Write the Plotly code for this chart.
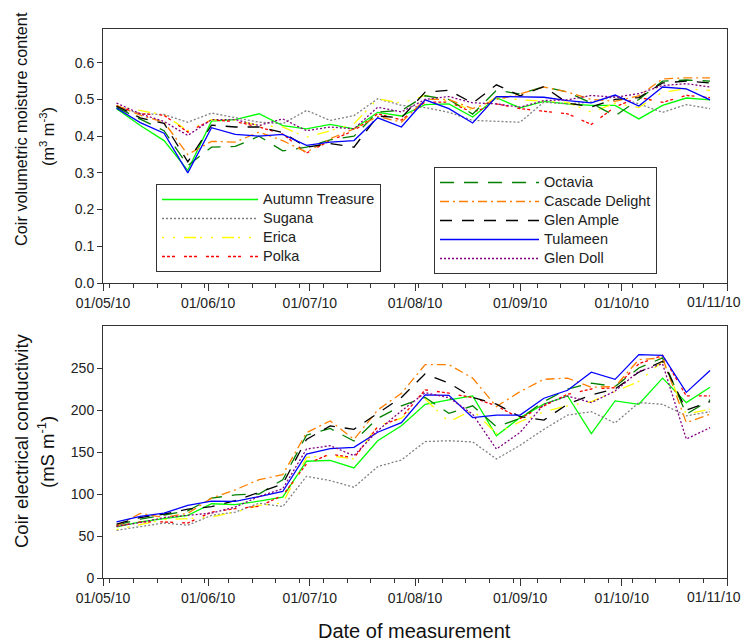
import plotly.graph_objects as go

dates = ["2010-05-05", "2010-05-12", "2010-05-19", "2010-05-26",
         "2010-06-02", "2010-06-09", "2010-06-16", "2010-06-23", "2010-06-30",
         "2010-07-07", "2010-07-14", "2010-07-21", "2010-07-28",
         "2010-08-04", "2010-08-11", "2010-08-18", "2010-08-25",
         "2010-09-01", "2010-09-08", "2010-09-15", "2010-09-22", "2010-09-29",
         "2010-10-06", "2010-10-13", "2010-10-20", "2010-10-27"]

month_ticks = ["2010-05-01", "2010-06-01", "2010-07-01", "2010-08-01",
               "2010-09-01", "2010-10-01", "2010-11-01"]
month_labels = ["01/05/10", "01/06/10", "01/07/10", "01/08/10",
                "01/09/10", "01/10/10", "01/11/10"]

cultivars = ["Autumn Treasure", "Sugana", "Erica", "Polka",
             "Octavia", "Cascade Delight", "Glen Ample", "Tulameen", "Glen Doll"]

# Volumetric moisture content (m3 m-3)
vmc_autumn_treasure = [0.475, 0.429, 0.388, 0.307, 0.441, 0.445, 0.461, 0.429, 0.420, 0.432, 0.420, 0.465, 0.455,
                       0.486, 0.488, 0.452, 0.505, 0.477, 0.495, 0.488, 0.484, 0.484, 0.447, 0.484, 0.504, 0.499]
vmc_sugana = [0.481, 0.461, 0.459, 0.438, 0.463, 0.450, 0.438, 0.434, 0.470, 0.443, 0.456, 0.502, 0.484,
              0.478, 0.465, 0.443, 0.440, 0.438, 0.493, 0.488, 0.493, 0.508, 0.488, 0.465, 0.486, 0.475]
vmc_erica = [0.482, 0.470, 0.458, 0.415, 0.445, 0.444, 0.429, 0.425, 0.397, 0.415, 0.434, 0.502, 0.490,
             0.511, 0.495, 0.470, 0.506, 0.499, 0.495, 0.492, 0.465, 0.490, 0.478, 0.520, 0.529, 0.525]
vmc_polka = [0.482, 0.461, 0.457, 0.411, 0.444, 0.440, 0.425, 0.406, 0.354, 0.388, 0.415, 0.461, 0.444,
             0.493, 0.493, 0.465, 0.488, 0.475, 0.468, 0.461, 0.432, 0.480, 0.506, 0.492, 0.511, 0.505]
vmc_octavia = [0.478, 0.447, 0.415, 0.320, 0.370, 0.372, 0.400, 0.360, 0.370, 0.390, 0.400, 0.466, 0.470,
               0.510, 0.500, 0.460, 0.525, 0.515, 0.535, 0.520, 0.490, 0.455, 0.500, 0.550, 0.553, 0.550]
vmc_cascade_delight = [0.484, 0.457, 0.438, 0.350, 0.386, 0.384, 0.411, 0.388, 0.356, 0.393, 0.420, 0.454, 0.438,
                       0.500, 0.500, 0.475, 0.500, 0.515, 0.534, 0.520, 0.500, 0.495, 0.510, 0.556, 0.559, 0.559]
vmc_glen_ample = [0.482, 0.450, 0.435, 0.330, 0.430, 0.425, 0.425, 0.410, 0.370, 0.380, 0.370, 0.455, 0.450,
                  0.520, 0.525, 0.490, 0.540, 0.510, 0.535, 0.490, 0.480, 0.500, 0.505, 0.545, 0.550, 0.545]
vmc_tulameen = [0.476, 0.437, 0.408, 0.300, 0.423, 0.405, 0.400, 0.405, 0.375, 0.384, 0.388, 0.450, 0.425,
                0.499, 0.475, 0.436, 0.508, 0.506, 0.506, 0.497, 0.491, 0.512, 0.482, 0.534, 0.529, 0.499]
vmc_glen_doll = [0.490, 0.461, 0.440, 0.402, 0.445, 0.445, 0.429, 0.447, 0.415, 0.425, 0.420, 0.479, 0.466,
                 0.500, 0.508, 0.491, 0.488, 0.479, 0.497, 0.499, 0.511, 0.506, 0.516, 0.538, 0.543, 0.534]

# Electrical conductivity (mS m-1)
ec_autumn_treasure = [60.8, 66.7, 70.7, 74.6, 88.4, 87.3, 91.5, 96.3, 139, 140, 131, 163.4, 181.2,
                      206.8, 212, 216.7, 169.3, 191, 207, 216.7, 172, 210.8, 206.8, 238, 208.8, 227]
ec_sugana = [56.8, 60.8, 65.5, 62.8, 74.6, 78.5, 89, 85, 121, 116, 108, 132.6, 140.5,
             162.4, 163.4, 162, 141.7, 158, 177, 194, 198, 184.5, 208.8, 206.8, 193, 198]
ec_erica = [57.7, 64, 69.5, 70.7, 72.6, 78.5, 86.4, 89.2, 143.6, 145.6, 141.7, 181.2, 190.3,
            213, 186, 200, 172, 186, 198, 205, 210, 222, 234, 258, 195, 201]
ec_polka = [61.6, 66.7, 66.7, 65.5, 78.5, 82.5, 85.3, 98.3, 135.8, 147.7, 142.9, 180, 191,
            224, 220, 214.7, 205, 190, 205, 218.7, 225, 226.5, 255, 265, 216.7, 216.7]
ec_octavia = [63, 70, 75, 80, 95, 99, 100, 117, 170, 178, 163, 190, 205,
              215, 196, 205, 180, 190, 210, 225, 232, 228, 250, 262, 195, 212]
ec_cascade_delight = [62, 77, 72, 77, 95, 105, 117, 123, 173, 187, 165, 200, 220,
                      254, 254, 238, 204, 222, 236.5, 238, 227, 228, 260, 262, 185, 195]
ec_glen_ample = [64, 72, 76, 82, 85, 92, 102, 112, 165, 181, 177, 196, 215,
                 243, 232, 215, 207, 192, 188, 207, 218, 225, 245, 258, 200, 210]
ec_tulameen = [66.7, 73.4, 77.3, 86.4, 91.6, 91.2, 97, 103, 147.5, 154, 155.5, 173.5, 185,
               218, 217.5, 191, 194, 194, 214, 223.5, 245, 236.5, 266, 265, 221, 247]
ec_glen_doll = [61.6, 66, 71.9, 74.6, 77.3, 84.4, 97.1, 106.2, 153.5, 157.5, 145.6, 175.3, 199,
                220.6, 214.7, 195, 153.5, 173.3, 206.8, 216.7, 208.8, 222.6, 246, 255, 165.4, 179]

vmc_series = [vmc_autumn_treasure, vmc_sugana, vmc_erica, vmc_polka, vmc_octavia,
              vmc_cascade_delight, vmc_glen_ample, vmc_tulameen, vmc_glen_doll]
ec_series = [ec_autumn_treasure, ec_sugana, ec_erica, ec_polka, ec_octavia,
             ec_cascade_delight, ec_glen_ample, ec_tulameen, ec_glen_doll]

vmc_ticks = [0.0, 0.1, 0.2, 0.3, 0.4, 0.5, 0.6]
ec_ticks = [0, 50, 100, 150, 200, 250]

styles = [
    dict(color="#00FF00", dash="solid"),
    dict(color="#808080", dash="2px,2px"),
    dict(color="#FFFF00", dash="2px,9px,2px,9px,12px,4px"),
    dict(color="#FF0000", dash="3px,2px,3px,2px,3px,9px"),
    dict(color="#008000", dash="14px,10px"),
    dict(color="#FF8000", dash="9px,4px,2px,4px"),
    dict(color="#000000", dash="12px,10px"),
    dict(color="#0000FF", dash="solid"),
    dict(color="#800080", dash="2px,2px"),
]
legend_of = ["legend"] * 4 + ["legend2"] * 5

FONT = "Liberation Sans, Arial, sans-serif"

# The page body has an 8px margin, so the figure sits at (8, 8) in the window.
OFF = 8
W, H = 753 - OFF, 644 - OFF
# plot area in window pixels: x 103..727, y 29..578
L, R, T, B = 103 - OFF, 753 - 727, 29 - OFF, 644 - 578
PW, PH = W - L - R, H - T - B


def px(x):
    return (x - OFF - L) / PW


def py(y):
    return (H - B - (y - OFF)) / PH


# the last date label sits a little left of its tick (as in the original),
# so it is drawn as an annotation anchored at that tick
tick_text = month_labels[:-1] + [""]

fig = go.Figure()

for name, vals, st, lg in zip(cultivars, vmc_series, styles, legend_of):
    fig.add_trace(go.Scatter(x=dates, y=vals, mode="lines",
                             name=f'<span style="font-size:14.5px">{name}</span>',
                             line=dict(color=st["color"], dash=st["dash"], width=1.3),
                             xaxis="x", yaxis="y", legend=lg, showlegend=True))
for name, vals, st in zip(cultivars, ec_series, styles):
    fig.add_trace(go.Scatter(x=dates, y=vals, mode="lines", name=name,
                             line=dict(color=st["color"], dash=st["dash"], width=1.3),
                             xaxis="x2", yaxis="y2", showlegend=False))

xcommon = dict(
    type="date", range=["2010-05-01", "2010-11-01"],
    tickmode="array", tickvals=month_ticks, ticktext=tick_text,
    ticks="outside", ticklen=7, tickwidth=1, tickcolor="#333",
    minor=dict(dtick=7 * 86400000, tick0="2010-05-03", ticks="outside",
               ticklen=4, tickcolor="#333", showgrid=False),
    showline=True, mirror=True, linecolor="#333", linewidth=1,
    showgrid=False, zeroline=False, automargin=False,
    tickfont=dict(family=FONT, size=14, color="#222"),
)
ycommon = dict(
    ticks="outside", ticklen=5, tickcolor="#333",
    showline=True, mirror=True, linecolor="#333", linewidth=1,
    showgrid=False, zeroline=False, automargin=False,
    tickfont=dict(family=FONT, size=14, color="#222"),
)

annotations = [
    dict(text="Coir volumetric moisture content", x=px(21), y=py(129),
         xref="paper", yref="paper", textangle=-90, showarrow=False,
         xanchor="center", yanchor="middle", font=dict(family=FONT, size=16.3, color="#111")),
    dict(text="(m<sup>3</sup> m<sup>-3</sup>)", x=px(47), y=py(137),
         xref="paper", yref="paper", textangle=-90, showarrow=False,
         xanchor="center", yanchor="middle", font=dict(family=FONT, size=16.3, color="#111")),
    dict(text="Coir electrical conductivity", x=px(21), y=py(441),
         xref="paper", yref="paper", textangle=-90, showarrow=False,
         xanchor="center", yanchor="middle", font=dict(family=FONT, size=18.5, color="#111")),
    dict(text="(mS m<sup>-1</sup>)", x=px(46), y=py(452),
         xref="paper", yref="paper", textangle=-90, showarrow=False,
         xanchor="center", yanchor="middle", font=dict(family=FONT, size=18.5, color="#111")),
    dict(text="Date of measurement", x=px(414), y=py(631),
         xref="paper", yref="paper", showarrow=False,
         xanchor="center", yanchor="middle", font=dict(family=FONT, size=20, color="#111")),
]
for xr, label_y in (("x", 302), ("x2", 597)):
    annotations.append(dict(text=month_labels[-1], x=month_ticks[-1], xref=xr,
                            y=py(label_y), yref="paper", showarrow=False,
                            xanchor="center", yanchor="middle", xshift=-13,
                            font=dict(family=FONT, size=14, color="#222")))

fig.update_layout(
    width=W, height=H,
    margin=dict(l=L, r=R, t=T, b=B),
    paper_bgcolor="white", plot_bgcolor="white",
    font=dict(family=FONT, size=14, color="#222"),
    xaxis=dict(anchor="y", **xcommon),
    xaxis2=dict(anchor="y2", **xcommon),
    yaxis=dict(domain=[py(283), 1], range=[0, 0.692], tickvals=vmc_ticks,
               ticktext=[f"{v:.1f}" for v in vmc_ticks], **ycommon),
    yaxis2=dict(domain=[0, py(326)], range=[0, 300], tickvals=ec_ticks,
                ticktext=[str(v) for v in ec_ticks], **ycommon),
    legend=dict(x=px(156), y=py(184), xanchor="left", yanchor="top",
                bordercolor="#333", borderwidth=1, bgcolor="white",
                itemwidth=96, font=dict(family=FONT, size=12, color="#222"),
                tracegroupgap=0),
    legend2=dict(x=px(434), y=py(167), xanchor="left", yanchor="top",
                 bordercolor="#333", borderwidth=1, bgcolor="white",
                 itemwidth=99, font=dict(family=FONT, size=12, color="#222"),
                 tracegroupgap=0),
    annotations=annotations,
)

fig.write_html("out.html")
